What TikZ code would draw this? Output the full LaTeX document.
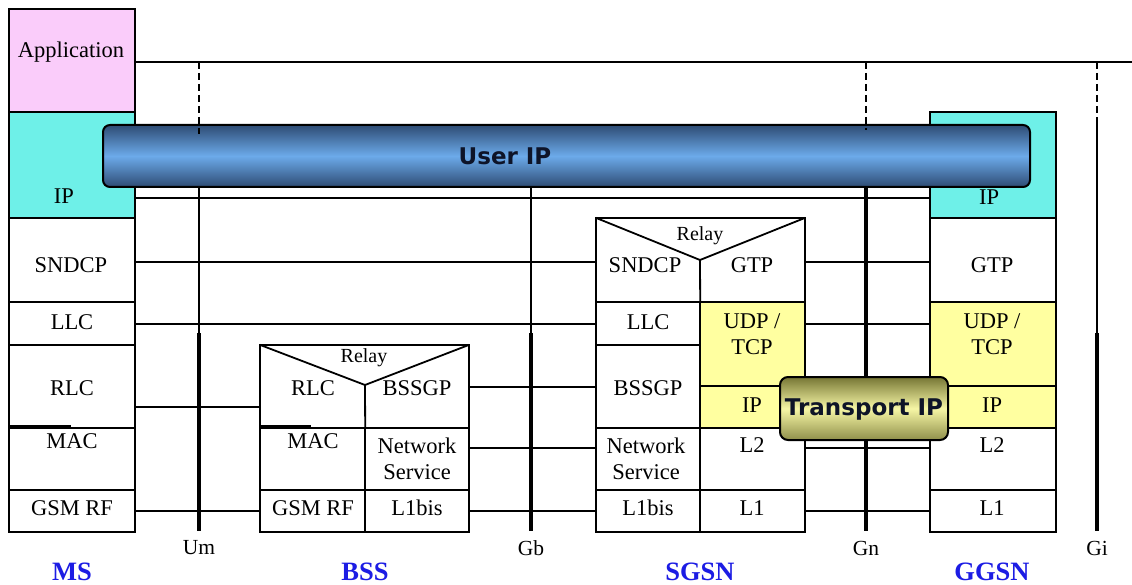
\documentclass[tikz,border=0pt]{standalone}
\usepackage{fontspec}
\setmainfont{Liberation Serif}
\newfontfamily\bubblefont{DejaVu Sans}
\usetikzlibrary{fit}

\definecolor{apppink}{RGB}{250,204,250}
\definecolor{ipcyan}{RGB}{110,240,232}
\definecolor{udpyellow}{RGB}{255,255,160}
\definecolor{bardark}{RGB}{46,76,116}
\definecolor{barlight}{RGB}{108,170,234}
\definecolor{olivedark}{RGB}{118,118,52}
\definecolor{olivelight}{RGB}{246,246,165}
\definecolor{nodeblue}{RGB}{28,28,228}
\definecolor{bartext}{RGB}{14,20,40}

\begin{document}
\begin{tikzpicture}[x=1pt,y=-1pt,
  cell/.style={draw=black, line width=1.8pt, inner sep=0pt},
  area/.style={inner sep=0pt},
  frame/.style={draw=black, line width=1.8pt, line join=miter},
  peer/.style={draw=black, line width=1.6pt},
  iface/.style={draw=black, line width=1.6pt},
  ifacethick/.style={draw=black, line width=4pt},
  ifacedash/.style={draw=black, line width=1.8pt, dash pattern=on 7pt off 4pt},
  macedge/.style={draw=black, line width=3.6pt},
  lbl/.style={font=\fontsize{22.5}{26}\selectfont, inner sep=0pt, align=center},
  relaylbl/.style={font=\fontsize{20}{23}\selectfont, inner sep=0pt},
  ifacelbl/.style={font=\fontsize{21.5}{25}\selectfont, inner sep=0pt},
  entitylbl/.style={font=\bfseries\fontsize{26.5}{30}\selectfont, text=nodeblue, inner sep=0pt},
  bubble/.style={draw=black, line width=2pt, rounded corners=8pt, inner sep=0pt},
  bubblelbl/.style={font=\bubblefont\bfseries\fontsize{23}{26}\selectfont, text=bartext, inner sep=0pt}
]
\useasboundingbox (0,0) rectangle (1132,585);
\fill[white] (0,0) rectangle (1132,585);

% ---------------- MS protocol stack ----------------
\node[cell, fill=apppink, fit={(9,9) (135,112)}] (msApp) {};
\node[cell, fill=ipcyan, fit={(9,112) (135,218)}] (msIP) {};
\node[cell, fit={(9,218) (135,302)}] (msSNDCP) {};
\node[cell, fit={(9,302) (135,345)}] (msLLC) {};
\node[cell, fit={(9,345) (135,428)}] (msRLC) {};
\node[cell, fit={(9,428) (135,490)}] (msMAC) {};
\node[cell, fit={(9,490) (135,532)}] (msRF) {};
\draw[macedge] (msMAC.north west) -- ++(63,0);

\node[lbl] at (71,52) {Application};
\node[lbl] at (64,196) {IP};
\node[lbl] at (71,265) {SNDCP};
\node[lbl] at (72,322) {LLC};
\node[lbl] at (72,388) {RLC};
\node[lbl] at (72,441) {MAC};
\node[lbl] at (72,508) {GSM RF};

% ---------------- BSS protocol stack ----------------
\node[area, fit={(260,345) (365,428)}] (bsRLC) {};
\node[area, fit={(365,345) (469,428)}] (bsBSSGP) {};
\node[cell, fit={(260,428) (365,490)}] (bsMAC) {};
\node[cell, fit={(365,428) (469,490)}] (bsNS) {};
\node[cell, fit={(260,490) (365,532)}] (bsRF) {};
\node[cell, fit={(365,490) (469,532)}] (bsL1bis) {};
\coordinate (bsVertex) at (365,385);
\draw[frame] (bsRLC.south west) -- (bsRLC.north west) -- (bsBSSGP.north east) -- (bsBSSGP.south east);
\draw[frame] (bsRLC.north west) -- (bsVertex) -- (bsBSSGP.north east);
\draw[frame] (bsVertex) -- (bsRLC.south east);
\draw[macedge] (bsMAC.north west) -- ++(52,0);

\node[relaylbl] at (364,358) {Relay};
\node[lbl] at (313,388) {RLC};
\node[lbl] at (417,388) {BSSGP};
\node[lbl] at (313,441) {MAC};
\node[lbl] at (417,459) {Network\\Service};
\node[lbl] at (313,508) {GSM RF};
\node[lbl] at (417,508) {L1bis};

% ---------------- SGSN protocol stack ----------------
\node[area, fit={(596,218) (700,302)}] (sgSNDCP) {};
\node[area, fit={(700,218) (805,302)}] (sgGTP) {};
\node[cell, fit={(596,302) (700,345)}] (sgLLC) {};
\node[cell, fit={(596,345) (700,428)}] (sgBSSGP) {};
\node[cell, fit={(596,428) (700,490)}] (sgNS) {};
\node[cell, fit={(596,490) (700,532)}] (sgL1bis) {};
\node[cell, fill=udpyellow, fit={(700,302) (805,386)}] (sgUDP) {};
\node[cell, fill=udpyellow, fit={(700,386) (805,428)}] (sgIP) {};
\node[cell, fit={(700,428) (805,490)}] (sgL2) {};
\node[cell, fit={(700,490) (805,532)}] (sgL1) {};
\coordinate (sgVertex) at (700,260);
\draw[frame] (sgSNDCP.south west) -- (sgSNDCP.north west) -- (sgGTP.north east) -- (sgGTP.south east);
\draw[frame] (sgSNDCP.north west) -- (sgVertex) -- (sgGTP.north east);
\draw[frame] (sgVertex) -- (sgSNDCP.south east);

\node[relaylbl] at (700,236) {Relay};
\node[lbl] at (645,265) {SNDCP};
\node[lbl] at (752,265) {GTP};
\node[lbl] at (648,322) {LLC};
\node[lbl] at (752,334) {UDP /\\TCP};
\node[lbl] at (648,388) {BSSGP};
\node[lbl] at (752,405) {IP};
\node[lbl] at (646,459) {Network\\Service};
\node[lbl] at (752,445) {L2};
\node[lbl] at (648,508) {L1bis};
\node[lbl] at (752,508) {L1};

% ---------------- GGSN protocol stack ----------------
\node[cell, fill=ipcyan, fit={(930,112) (1056,218)}] (ggIP) {};
\node[cell, fit={(930,218) (1056,302)}] (ggGTP) {};
\node[cell, fill=udpyellow, fit={(930,302) (1056,386)}] (ggUDP) {};
\node[cell, fill=udpyellow, fit={(930,386) (1056,428)}] (ggIPt) {};
\node[cell, fit={(930,428) (1056,490)}] (ggL2) {};
\node[cell, fit={(930,490) (1056,532)}] (ggL1) {};

\node[lbl] at (989,197) {IP};
\node[lbl] at (992,265) {GTP};
\node[lbl] at (992,334) {UDP /\\TCP};
\node[lbl] at (992,405) {IP};
\node[lbl] at (992,445) {L2};
\node[lbl] at (992,508) {L1};

% ---------------- peer-to-peer lines ----------------
\coordinate (topEnd) at (1132,62);
\draw[peer] ([yshift=-1.5pt]msApp.east) -- (topEnd);
\draw[peer] ([yshift=-22pt]msIP.east) -- ([yshift=-22pt]ggIP.west);
\draw[peer] ([yshift=-33pt]msIP.east) -- ([yshift=-33pt]ggIP.west);
\draw[peer] ([yshift=-2pt]msSNDCP.east) -- ([yshift=-2pt]sgSNDCP.west);
\draw[peer] ([yshift=-2pt]sgGTP.east) -- ([yshift=-2pt]ggGTP.west);
\draw[peer] ([yshift=-0.5pt]msLLC.east) -- ([yshift=-0.5pt]sgLLC.west);
\draw[peer] ([yshift=20pt]sgUDP.east) -- ([yshift=20pt]ggUDP.west);
\draw[peer] ([yshift=-20.5pt]msRLC.east) -- ([yshift=-20.5pt]bsRLC.west);
\draw[peer] ([yshift=-0.5pt]bsBSSGP.east) -- ([yshift=-0.5pt]sgBSSGP.west);
\draw[peer] ([yshift=11pt]bsNS.east) -- ([yshift=11pt]sgNS.west);
\draw[peer] (sgIP.east) -- (ggIPt.west);
\draw[peer] ([yshift=11pt]sgL2.east) -- ([yshift=11pt]ggL2.west);
\draw[peer] (msRF.east) -- (bsRF.west);
\draw[peer] (bsL1bis.east) -- (sgL1bis.west);
\draw[peer] (sgL1.east) -- (ggL1.west);

% ---------------- reference points ----------------
\coordinate (umTop) at (199,62);   \coordinate (umDash) at (199,134);
\coordinate (umMid) at (199,187);  \coordinate (umJoin) at (199,333);
\coordinate (umBot) at (199,531);
\coordinate (gbMid) at (531,187);  \coordinate (gbJoin) at (531,333);
\coordinate (gbBot) at (531,531);
\coordinate (gnTop) at (866,62);   \coordinate (gnDash) at (866,130);
\coordinate (gnMid) at (866,187);  \coordinate (gnBot) at (866,531);
\coordinate (giTop) at (1097,62);  \coordinate (giDash) at (1097,123);
\coordinate (giJoin) at (1097,333); \coordinate (giBot) at (1097,531);

\draw[iface] (umMid) -- (umJoin);
\draw[ifacethick] (umJoin) -- (umBot);
\draw[iface] (gbMid) -- (gbJoin);
\draw[ifacethick] (gbJoin) -- (gbBot);
\draw[ifacethick] (gnMid) -- (gnBot);
\draw[ifacedash] (giTop) -- (giDash);
\draw[iface] (giDash) -- (giJoin);
\draw[ifacethick] (giJoin) -- (giBot);

% ---------------- User IP pipe ----------------
\node[bubble, rounded corners=7pt, top color=bardark, bottom color=bardark, middle color=barlight,
      fit={(103,125) (1030,187)}] (userIP) {};
\node[bubblelbl] at (505,156) {User IP};

\draw[ifacedash] (umTop) -- (umDash);
\draw[ifacedash] (gnTop) -- (gnDash);

% ---------------- Transport IP pipe ----------------
\node[bubble, top color=olivedark, bottom color=olivedark!80!olivelight, middle color=olivelight,
      fit={(780,377) (948,440)}] (transportIP) {};
\node[bubblelbl] at (864,410) {Transport IP};

% ---------------- labels ----------------
\node[ifacelbl] at (199,548) {Um};
\node[ifacelbl] at (531,548) {Gb};
\node[ifacelbl] at (866,548) {Gn};
\node[ifacelbl] at (1097,548) {Gi};

\node[entitylbl] at (72,572) {MS};
\node[entitylbl] at (365,572) {BSS};
\node[entitylbl] at (700,572) {SGSN};
\node[entitylbl] at (992,572) {GGSN};
\end{tikzpicture}
\end{document}
